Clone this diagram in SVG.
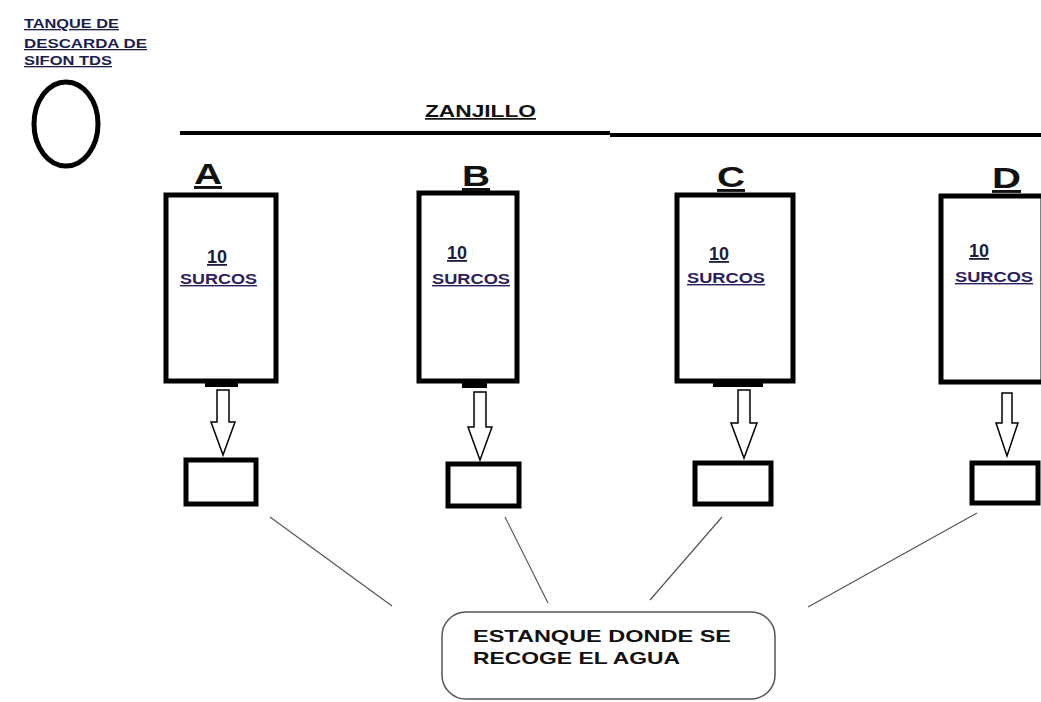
<svg xmlns="http://www.w3.org/2000/svg" width="1041" height="702" viewBox="0 0 1041 702">
<style>
.t{font-family:"Liberation Sans",Arial,sans-serif;font-weight:bold}
.ttl{font-size:13px;fill:#1c1c50;text-decoration:underline}
.lbl{font-size:29px;fill:#111;text-decoration:underline}
.num{font-size:18px;fill:#1c1c40;text-decoration:underline}
.sur{font-size:14px;fill:#2a2060;text-decoration:underline}
.big{font-size:17px;fill:#111}
.plot{fill:#fff;stroke:#000;stroke-width:5}
.tank{fill:#fff;stroke:#000;stroke-width:5}
.arr{fill:#fff;stroke:#000;stroke-width:1.5}
.out{fill:#000}
.conn{stroke:#555;stroke-width:1.2;fill:none}
</style>
<rect width="1041" height="702" fill="#fff"/>
<g id="tds">
<text class="t ttl" x="24" y="28" textLength="95" lengthAdjust="spacingAndGlyphs">TANQUE DE</text>
<text class="t ttl" x="24" y="48" textLength="123" lengthAdjust="spacingAndGlyphs">DESCARDA DE</text>
<text class="t ttl" x="24" y="65" textLength="88" lengthAdjust="spacingAndGlyphs">SIFON TDS</text>
<ellipse cx="66" cy="124" rx="32" ry="42" fill="none" stroke="#000" stroke-width="5"/>
</g>
<g id="zanjillo">
<text class="t big" x="425" y="117" textLength="111" lengthAdjust="spacingAndGlyphs" text-decoration="underline">ZANJILLO</text>
<line x1="180" y1="133" x2="610" y2="133" stroke="#000" stroke-width="4"/>
<line x1="610" y1="135" x2="1041" y2="135" stroke="#000" stroke-width="4"/>
</g>
<g id="plotA">
<text class="t lbl" x="194" y="184" textLength="28" lengthAdjust="spacingAndGlyphs">A</text>
<rect class="plot" x="166" y="195" width="110" height="186"/>
<rect class="out" x="205" y="381" width="33" height="6"/>
<text class="t num" x="207" y="263">10</text>
<text class="t sur" x="180" y="284" textLength="77" lengthAdjust="spacingAndGlyphs">SURCOS</text>
<path class="arr" d="M217 390 H229 V422 H235 L223 455 L211 422 H217 Z"/>
<rect class="tank" x="186" y="460" width="70" height="44"/>
</g>
<g id="plotB">
<text class="t lbl" x="462" y="186" textLength="28" lengthAdjust="spacingAndGlyphs">B</text>
<rect class="plot" x="419" y="193" width="98" height="188"/>
<rect class="out" x="462" y="381" width="25" height="7"/>
<text class="t num" x="447" y="259">10</text>
<text class="t sur" x="432" y="284" textLength="78" lengthAdjust="spacingAndGlyphs">SURCOS</text>
<path class="arr" d="M474 392 H486 V427 H492 L480 460 L468 427 H474 Z"/>
<rect class="tank" x="448" y="464" width="71" height="42"/>
</g>
<g id="plotC">
<text class="t lbl" x="717" y="187" textLength="28" lengthAdjust="spacingAndGlyphs">C</text>
<rect class="plot" x="677" y="195" width="116" height="186"/>
<rect class="out" x="713" y="381" width="50" height="6"/>
<text class="t num" x="709" y="260">10</text>
<text class="t sur" x="687" y="283" textLength="78" lengthAdjust="spacingAndGlyphs">SURCOS</text>
<path class="arr" d="M738 390 H750 V423 H757 L744 458 L731 423 H738 Z"/>
<rect class="tank" x="695" y="463" width="76" height="41"/>
</g>
<g id="plotD">
<text class="t lbl" x="992" y="188" textLength="29" lengthAdjust="spacingAndGlyphs">D</text>
<rect class="plot" x="941" y="196" width="102" height="186"/>
<text class="t num" x="969" y="257">10</text>
<text class="t sur" x="955" y="282" textLength="78" lengthAdjust="spacingAndGlyphs">SURCOS</text>
<path class="arr" d="M1002 393 H1012 V423 H1018 L1007 456 L996 423 H1002 Z"/>
<rect class="tank" x="972" y="463" width="66" height="40"/>
</g>
<g id="estanque">
<rect x="442" y="612" width="333" height="87" rx="24" ry="24" fill="#fff" stroke="#555" stroke-width="1.5"/>
<text class="t" font-size="17" fill="#111" x="473" y="642" textLength="258" lengthAdjust="spacingAndGlyphs">ESTANQUE DONDE SE</text>
<text class="t" font-size="17" fill="#111" x="473" y="664" textLength="207" lengthAdjust="spacingAndGlyphs">RECOGE EL AGUA</text>
</g>
<g id="connectors">
<line class="conn" x1="270" y1="517" x2="392" y2="606"/>
<line class="conn" x1="505" y1="517" x2="548" y2="603"/>
<line class="conn" x1="722" y1="517" x2="650" y2="600"/>
<line class="conn" x1="977" y1="513" x2="808" y2="607"/>
</g>
</svg>
